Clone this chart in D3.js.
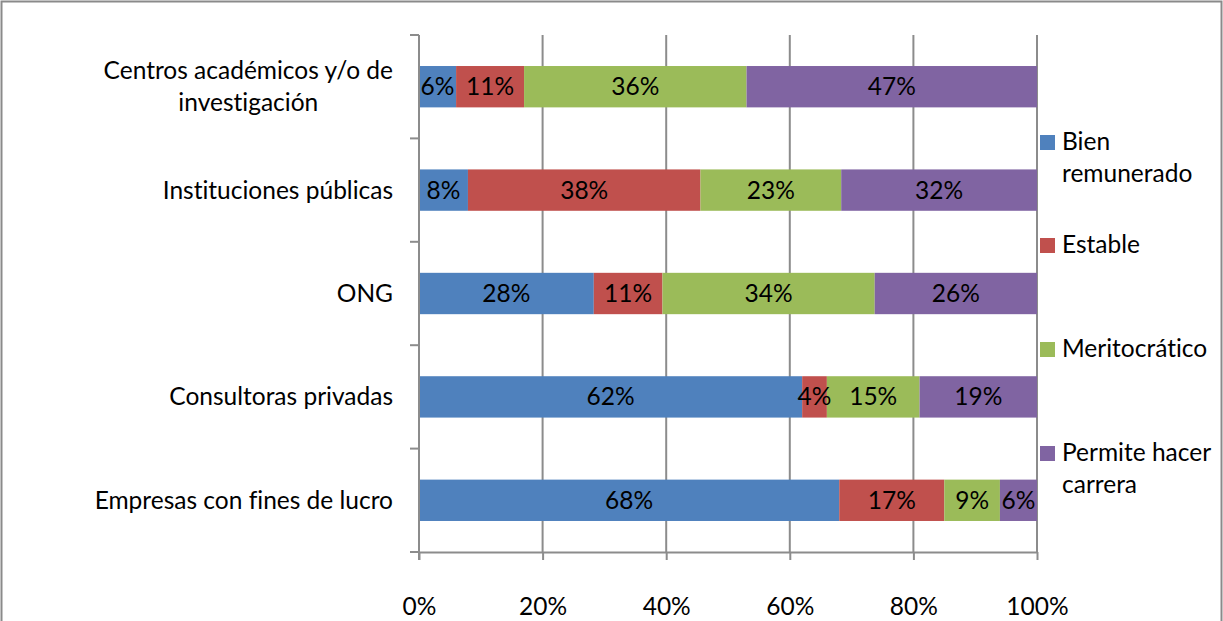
<!DOCTYPE html>
<html>
<head>
<meta charset="utf-8">
<script src="https://cdn.jsdelivr.net/npm/d3@7"></script>
<style>
  html, body { margin: 0; padding: 0; background: #fff; }
  svg { display: block; }
  text { font-family: Lato, "Open Sans", sans-serif; fill: #000; font-variant-ligatures: none; }
</style>
</head>
<body>
<svg id="chart" width="1223" height="621"></svg>
<script>
// Categories (top to bottom) and the share of each attribute, in percent
const categories = [
  ["Centros académicos y/o de", "investigación"],
  ["Instituciones públicas"],
  ["ONG"],
  ["Consultoras privadas"],
  ["Empresas con fines de lucro"]
];
const seriesNames = [["Bien", "remunerado"], ["Estable"], ["Meritocrático"], ["Permite hacer", "carrera"]];
const seriesColors = ["#4F81BD", "#C0504D", "#9BBB59", "#8064A2"];
const bienRemunerado   = [6, 8, 28, 62, 68];
const estable          = [11, 38, 11, 4, 17];
const meritocratico    = [36, 23, 34, 15, 9];
const permiteCarrera   = [47, 32, 26, 19, 6];
const xTicks = [0, 0.2, 0.4, 0.6, 0.8, 1];

const series = [bienRemunerado, estable, meritocratico, permiteCarrera];
const FONT = 24.5;

const svg = d3.select("#chart");

// outer frame
svg.append("rect")
  .attr("x", 1.5).attr("y", 1.5)
  .attr("width", 1220).attr("height", 660)
  .attr("fill", "none").attr("stroke", "#8a8a8a").attr("stroke-width", 2);

const plot = { left: 419, right: 1037, top: 35, bottom: 552 };

const x = d3.scaleLinear().domain([0, 1]).range([plot.left, plot.right]);
const y = d3.scaleBand()
  .domain(d3.range(categories.length))
  .range([plot.top, plot.bottom])
  .paddingInner(0.6).paddingOuter(0.3);
const band = d3.scaleBand().domain(d3.range(categories.length)).range([plot.top, plot.bottom]);

// rows normalised so each bar spans 100%
const rows = categories.map((c, i) => {
  const vals = series.map(s => s[i]);
  const total = d3.sum(vals);
  let acc = 0;
  return vals.map((v, k) => {
    const seg = { row: i, k, v, x0: acc / total, x1: (acc + v) / total };
    acc += v;
    return seg;
  });
});

// vertical gridlines
svg.append("g")
  .selectAll("line")
  .data(xTicks.slice(1))
  .join("line")
  .attr("x1", d => x(d)).attr("x2", d => x(d))
  .attr("y1", plot.top).attr("y2", plot.bottom)
  .attr("stroke", "#8c8c8c").attr("stroke-width", 2);

// bars
const segs = rows.flat();
svg.append("g")
  .selectAll("rect")
  .data(segs)
  .join("rect")
  .attr("x", d => x(d.x0))
  .attr("width", d => x(d.x1) - x(d.x0))
  .attr("y", d => y(d.row))
  .attr("height", y.bandwidth())
  .attr("fill", d => seriesColors[d.k]);

// value labels
svg.append("g")
  .selectAll("text")
  .data(segs)
  .join("text")
  .attr("x", d => (x(d.x0) + x(d.x1)) / 2)
  .attr("y", d => y(d.row) + y.bandwidth() / 2 + 8.5)
  .attr("text-anchor", "middle")
  .attr("font-size", FONT)
  .text(d => d.v + "%");

// y axis line with category tick marks
svg.append("line")
  .attr("x1", plot.left).attr("x2", plot.left)
  .attr("y1", plot.top).attr("y2", plot.bottom + 8)
  .attr("stroke", "#8c8c8c").attr("stroke-width", 2);
svg.append("g")
  .selectAll("line")
  .data(d3.range(categories.length + 1))
  .join("line")
  .attr("x1", plot.left - 9).attr("x2", plot.left)
  .attr("y1", i => i < categories.length ? band(i) : plot.bottom)
  .attr("y2", i => i < categories.length ? band(i) : plot.bottom)
  .attr("stroke", "#8c8c8c").attr("stroke-width", 2);

// category labels: wrapped lines centred on each other, block right-aligned
const catG = svg.append("g");
categories.forEach((lines, i) => {
  const cy = band(i) + band.bandwidth() / 2;
  const lh = 32;
  const first = lines.length === 1 ? cy + 8.5 : cy - 8;
  const t = catG.append("text")
    .attr("font-size", FONT)
    .attr("text-anchor", "middle");
  lines.forEach((ln, j) => t.append("tspan").attr("x", 0).attr("y", first + j * lh).text(ln));
  const w = t.node().getBBox().width;
  t.selectAll("tspan").attr("x", 393 - w / 2);
});

// x axis
const xAxis = d3.axisBottom(x).tickValues(xTicks).tickFormat(d3.format(".0%")).tickSize(8).tickSizeOuter(0);
const gx = svg.append("g").attr("transform", `translate(0,${plot.bottom})`).call(xAxis);
gx.select(".domain").attr("stroke", "#8c8c8c").attr("stroke-width", 2);
gx.selectAll(".tick line").attr("stroke", "#8c8c8c").attr("stroke-width", 2);
gx.selectAll(".tick text")
  .attr("font-family", "Lato, sans-serif")
  .attr("font-size", FONT)
  .attr("fill", "#000")
  .attr("y", 63).attr("dy", 0);

// legend
const legendY = [150, 253, 357, 461];
const lg = svg.append("g");
seriesNames.forEach((lines, k) => {
  lg.append("rect")
    .attr("x", 1040).attr("y", legendY[k] - 15)
    .attr("width", 15).attr("height", 15)
    .attr("fill", seriesColors[k]);
  const t = lg.append("text").attr("font-size", FONT);
  lines.forEach((ln, j) => t.append("tspan").attr("x", 1062).attr("y", legendY[k] + j * 32).text(ln));
});
</script>
</body>
</html>
